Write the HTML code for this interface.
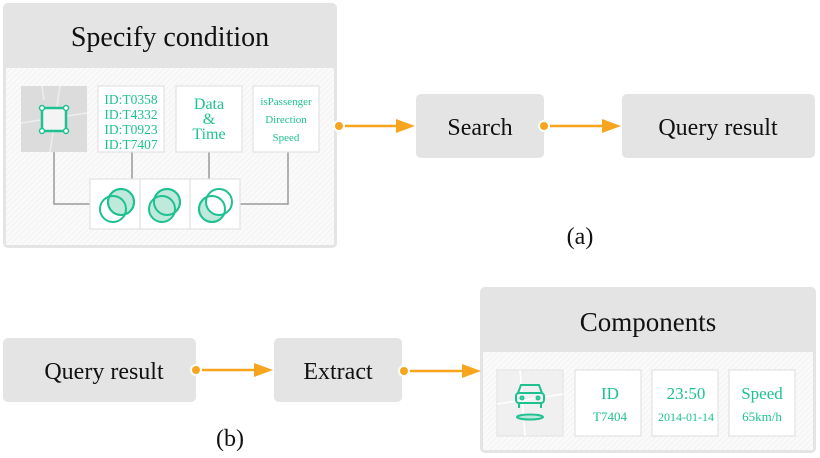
<!DOCTYPE html>
<html><head><meta charset="utf-8"><style>
html,body{margin:0;padding:0;background:#fff;width:820px;height:458px;overflow:hidden}
svg{display:block}
svg, svg text{font-family:'Liberation Serif','Times New Roman','DejaVu Serif',serif !important}
</style></head><body>
<svg width="820" height="458" viewBox="0 0 820 458" xmlns="http://www.w3.org/2000/svg" style="font-family:'Liberation Serif','Times New Roman',serif">
<defs>
<pattern id="hatch" width="4" height="4" patternUnits="userSpaceOnUse" patternTransform="rotate(45)">
<rect width="4" height="4" fill="#fafafa"/><line x1="0" y1="0" x2="0" y2="4" stroke="#f0f0f0" stroke-width="1.5"/>
</pattern>
</defs>
<rect x="3" y="3" width="334" height="245" rx="5" fill="#e4e4e4"/>
<rect x="6" y="68" width="328" height="177" fill="url(#hatch)"/>
<text x="170" y="46" font-size="28" text-anchor="middle" fill="#111">Specify condition</text>
<g stroke="#999" stroke-width="1.5" fill="none">
<polyline points="54,152 54,204 90,204"/>
<line x1="132" y1="152" x2="132" y2="179"/>
<line x1="209" y1="152" x2="209" y2="179"/>
<polyline points="288,152 288,204 240,204"/>
</g>
<rect x="21" y="86" width="66" height="66" fill="#dcdcdc"/>
<g stroke="#eee" stroke-width="1.5"><line x1="21" y1="123" x2="87" y2="113"/><line x1="60" y1="86" x2="50" y2="152"/><line x1="42" y1="86" x2="44" y2="100"/></g>
<rect x="42" y="108" width="24" height="23" fill="#f4f4f4" stroke="#1fc191" stroke-width="2.5"/>
<g fill="#fff" stroke="#1fc191" stroke-width="1.5"><circle cx="42" cy="108" r="2.5"/><circle cx="66" cy="108" r="2.5"/><circle cx="42" cy="131" r="2.5"/><circle cx="66" cy="131" r="2.5"/></g>
<g fill="#fff" stroke="#e2e2e2" stroke-width="1.2">
<rect x="98" y="86" width="66" height="66"/>
<rect x="176" y="86" width="66" height="66"/>
<rect x="253" y="86" width="66" height="66"/>
<rect x="90" y="179" width="50" height="50"/>
<rect x="140" y="179" width="50" height="50"/>
<rect x="190" y="179" width="50" height="50"/>
</g>
<g fill="#1fc191" text-anchor="middle">
<text x="131" y="104" font-size="13.5">ID:T0358</text>
<text x="131" y="119" font-size="13.5">ID:T4332</text>
<text x="131" y="134" font-size="13.5">ID:T0923</text>
<text x="131" y="149" font-size="13.5">ID:T7407</text>
<text x="209" y="109" font-size="16">Data</text>
<text x="209" y="124" font-size="16">&amp;</text>
<text x="209" y="139" font-size="16">Time</text>
<text x="286" y="105" font-size="11">isPassenger</text>
<text x="286" y="123" font-size="11">Direction</text>
<text x="286" y="141" font-size="11">Speed</text>
</g>
<g stroke="#1fc191" stroke-width="2" fill="none">
<circle cx="121" cy="202" r="13" fill="#bfe9da"/>
<circle cx="113" cy="209" r="13"/>
<circle cx="121" cy="202" r="13"/>
<circle cx="167" cy="202" r="13" fill="#bfe9da"/>
<circle cx="162" cy="209" r="13" fill="#bfe9da"/>
<circle cx="167" cy="202" r="13"/>
<circle cx="212" cy="209" r="13" fill="#bfe9da"/>
<circle cx="219" cy="202" r="13" fill="#fff"/>
<circle cx="212" cy="209" r="13"/>
</g>
<rect x="416" y="94" width="128" height="64" rx="5" fill="#e4e4e4"/>
<text x="480" y="135" font-size="24" text-anchor="middle" fill="#111">Search</text>
<rect x="622" y="94" width="193" height="64" rx="5" fill="#e4e4e4"/>
<text x="718" y="135" font-size="24" text-anchor="middle" fill="#111">Query result</text>
<text x="580" y="244" font-size="24" text-anchor="middle" fill="#111">(a)</text>
<rect x="3" y="338" width="193" height="64" rx="5" fill="#e4e4e4"/>
<text x="104" y="379" font-size="24" text-anchor="middle" fill="#111">Query result</text>
<rect x="274" y="338" width="128" height="64" rx="5" fill="#e4e4e4"/>
<text x="338" y="379" font-size="24" text-anchor="middle" fill="#111">Extract</text>
<text x="230" y="446" font-size="24" text-anchor="middle" fill="#111">(b)</text>
<rect x="480" y="287" width="336" height="166" rx="5" fill="#e4e4e4"/>
<rect x="483" y="352" width="330" height="98" fill="url(#hatch)"/>
<text x="648" y="331" font-size="27" text-anchor="middle" fill="#111">Components</text>
<g stroke="#f7a51e" stroke-width="2.5"><line x1="342" y1="126" x2="398" y2="126"/><line x1="547" y1="126" x2="604" y2="126"/>
<line x1="199" y1="370" x2="256" y2="370"/><line x1="407" y1="371" x2="464" y2="371"/></g>
<g fill="#f7a51e" stroke="#fff" stroke-width="2">
<circle cx="339" cy="126" r="5"/><circle cx="544" cy="126" r="5"/><circle cx="196" cy="370" r="5"/><circle cx="404" cy="371" r="5"/></g>
<g fill="#f7a51e">
<polygon points="396,119 415,126 396,133"/><polygon points="602,119 621,126 602,133"/>
<polygon points="254,363 273,370 254,377"/><polygon points="462,364 481,371 462,378"/></g>
<rect x="497" y="370" width="66" height="66" fill="#f0f0f0" stroke="#e2e2e2"/>
<g stroke="#fff" stroke-width="1.5"><line x1="497" y1="404" x2="563" y2="394"/><line x1="520" y1="370" x2="525" y2="436"/></g>
<g stroke="#1fc191" stroke-width="2" fill="none">
<path d="M518,393 l3,-8 h18 l3,8"/>
<rect x="516" y="393" width="28" height="10" rx="3"/>
<circle cx="522" cy="398" r="1.5"/><circle cx="538" cy="398" r="1.5"/>
<line x1="519" y1="403" x2="519" y2="408"/><line x1="541" y1="403" x2="541" y2="408"/>
<ellipse cx="530" cy="417" rx="13" ry="2.5" fill="#bfe9da"/>
</g>
<g fill="#fff" stroke="#e2e2e2" stroke-width="1.2">
<rect x="575" y="370" width="66" height="66"/>
<rect x="652" y="370" width="66" height="66"/>
<rect x="729" y="370" width="66" height="66"/>
</g>
<g fill="#1fc191" text-anchor="middle">
<text x="610" y="399" font-size="17">ID</text>
<text x="610" y="421" font-size="13">T7404</text>
<text x="686" y="399" font-size="17">23:50</text>
<text x="686" y="421" font-size="12">2014-01-14</text>
<text x="762" y="399" font-size="17">Speed</text>
<text x="762" y="421" font-size="13">65km/h</text>
</g>
</svg>
</body></html>
